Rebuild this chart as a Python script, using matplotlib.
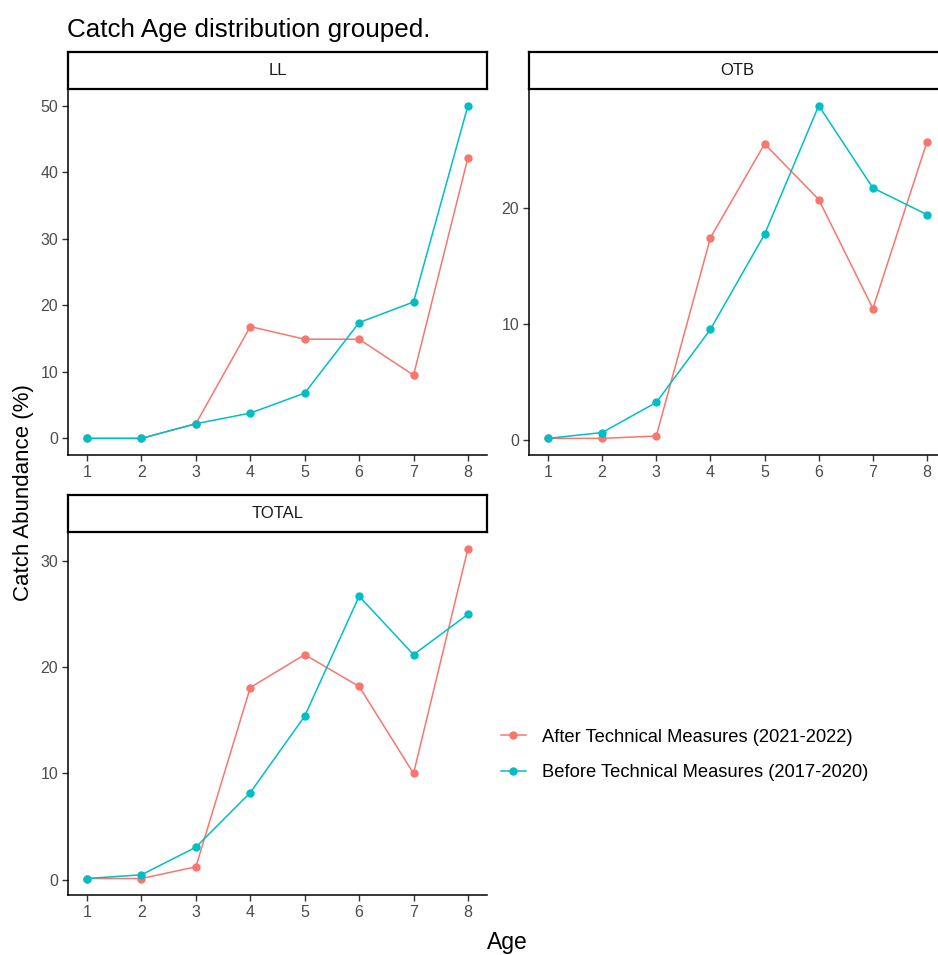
import matplotlib
matplotlib.use("Agg")
import matplotlib.pyplot as plt
from matplotlib.lines import Line2D

plt.rcParams['font.family'] = ['Liberation Sans', 'DejaVu Sans']

ages = [1, 2, 3, 4, 5, 6, 7, 8]
series_names = ["After Technical Measures (2021-2022)", "Before Technical Measures (2017-2020)"]
colors = ["#F8766D", "#00BFC4"]

ll_after = [0.0, 0.0, 2.2, 16.8, 14.9, 14.9, 9.5, 42.2]
ll_before = [0.0, 0.0, 2.2, 3.8, 6.8, 17.4, 20.5, 50.0]
otb_after = [0.1, 0.1, 0.3, 17.4, 25.5, 20.7, 11.3, 25.7]
otb_before = [0.1, 0.6, 3.2, 9.5, 17.7, 28.8, 21.7, 19.4]
total_after = [0.1, 0.1, 1.2, 18.1, 21.2, 18.2, 10.0, 31.2]
total_before = [0.1, 0.45, 3.05, 8.2, 15.4, 26.7, 21.2, 25.0]

panels = {
    "LL": (ll_after, ll_before, [0, 10, 20, 30, 40, 50]),
    "OTB": (otb_after, otb_before, [0, 10, 20]),
    "TOTAL": (total_after, total_before, [0, 10, 20, 30]),
}

W, H = 938, 955
fig = plt.figure(figsize=(W / 100, H / 100), dpi=100)


def px_axes(x0, y0, x1, y1):
    # pixel box (top-left origin) -> figure axes
    return fig.add_axes([x0 / W, 1 - y1 / H, (x1 - x0) / W, (y1 - y0) / H])


# panel boxes in pixels: (left, strip top, plot top, plot bottom, right)
boxes = {
    "LL": (68, 52, 89, 455, 487),
    "OTB": (529, 52, 89, 455, 946),
    "TOTAL": (68, 495, 532, 895, 487),
}

for name, (after, before, yticks) in panels.items():
    x0, st, pt, pb, x1 = boxes[name]
    ax = px_axes(x0, pt, x1, pb)
    for vals, c in zip([after, before], colors):
        ax.plot(ages, vals, '-o', color=c, lw=1.1, ms=5)
    lo = min(min(after), min(before))
    hi = max(max(after), max(before))
    pad = (hi - lo) * 0.05
    ax.set_ylim(lo - pad, hi + pad)
    ax.set_xlim(1 - 0.35, 8 + 0.35)
    ax.set_xticks(ages)
    ax.set_yticks(yticks)
    for s in ['top', 'right']:
        ax.spines[s].set_visible(False)
    for s in ['left', 'bottom']:
        ax.spines[s].set_linewidth(1.1)
        ax.spines[s].set_color('black')
    ax.tick_params(length=4, width=1, color='#333333', labelcolor='#4D4D4D',
                   labelsize=11.5, pad=3)

    sa = px_axes(x0, st, x1, pt)
    sa.set_xticks([])
    sa.set_yticks([])
    for s in sa.spines.values():
        s.set_linewidth(1.6)
        s.set_color('black')
    sa.text(0.5, 0.5, name, ha='center', va='center', fontsize=12,
            color='#1A1A1A', transform=sa.transAxes)

fig.text(67 / W, 1 - 30 / H, "Catch Age distribution grouped.", fontsize=18.7,
         ha='left', va='center', color='black')
fig.text(23 / W, 1 - 493 / H, "Catch Abundance (%)", rotation=90, fontsize=16,
         ha='center', va='center', color='black')
fig.text(507 / W, 1 - 942 / H, "Age", fontsize=16.5, ha='center', va='center',
         color='black')

handles = [Line2D([], [], color=c, marker='o', lw=1.1, ms=5) for c in colors]
fig.legend(handles, series_names, loc='center left',
           bbox_to_anchor=(484 / W, 1 - 755 / H), frameon=False, fontsize=13.2,
           handlelength=1.4, handletextpad=0.85, labelspacing=1.0)

fig.savefig("out.png", dpi=100)
